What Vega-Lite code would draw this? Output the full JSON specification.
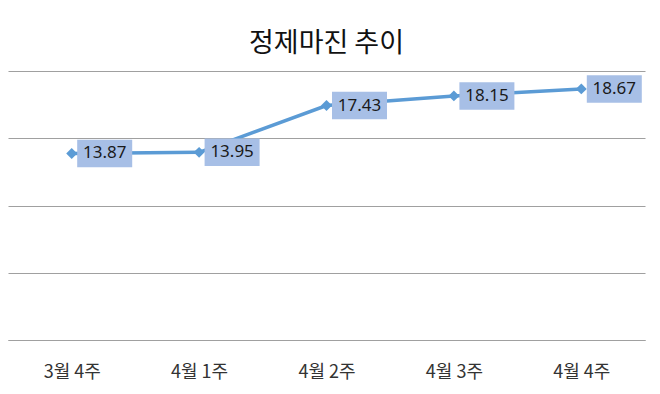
{
  "$schema": "https://vega.github.io/schema/vega-lite/v6.json",
  "width": 637,
  "height": 269,
  "autosize": {"type": "none"},
  "padding": {"left": 8, "top": 71, "right": 15, "bottom": 54},
  "background": "white",
  "title": {"text": "정제마진 추이", "font": "Noto Sans CJK KR", "fontSize": 27, "fontWeight": "normal", "color": "#111111", "anchor": "middle", "offset": 13},
  "config": {"view": {"stroke": null}},
  "data": {"values": [
    {"week": "3월 4주", "value": 13.87},
    {"week": "4월 1주", "value": 13.95},
    {"week": "4월 2주", "value": 17.43},
    {"week": "4월 3주", "value": 18.15},
    {"week": "4월 4주", "value": 18.67}
  ]},
  "encoding": {
    "x": {"field": "week", "type": "ordinal", "sort": null,
      "axis": {"title": null, "labelAngle": 0, "ticks": false, "labelPadding": 23, "domain": true, "domainColor": "#a0a0a0", "domainWidth": 1.2, "labelFont": "Noto Sans CJK KR", "labelFontSize": 18, "labelColor": "#333333", "grid": false}},
    "y": {"field": "value", "type": "quantitative", "scale": {"domain": [0, 20]},
      "axis": {"values": [0, 5, 10, 15, 20], "labels": false, "ticks": false, "domain": false, "title": null, "gridColor": "#a0a0a0", "gridWidth": 1.2}}
  },
  "layer": [
    {"mark": {"type": "line", "color": "#5b9bd5", "strokeWidth": 3.5}},
    {"mark": {"type": "point", "shape": "diamond", "filled": true, "size": 120, "color": "#5b9bd5", "opacity": 1}},
    {"mark": {"type": "point", "shape": "M0.2,-0.5L2.2,-0.5L2.2,0.5L0.2,0.5Z", "filled": true, "size": 3025, "color": "#a7bfe6", "opacity": 1}},
    {"mark": {"type": "text", "dx": 33, "fontSize": 17, "font": "Noto Sans", "color": "#1a1a1a", "baseline": "middle"},
      "encoding": {"text": {"field": "value", "type": "quantitative", "format": ".2f"}}}
  ]
}
